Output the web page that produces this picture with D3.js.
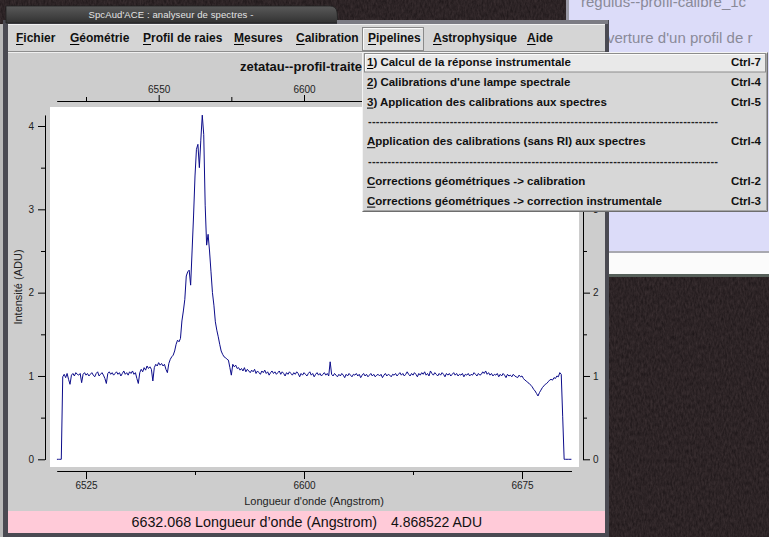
<!DOCTYPE html>
<html>
<head>
<meta charset="utf-8">
<script src="https://cdn.jsdelivr.net/npm/d3@7"></script>
<style>
  html, body { margin: 0; padding: 0; overflow: hidden; background: #2c2325; }
  svg text { font-family: "Liberation Sans", Arial, Helvetica, sans-serif; }
</style>
</head>
<body>
<svg id="view" width="769" height="537"></svg>
<script>
// ---- Spectrum: zetatau--profil-traite (H-alpha region), linear sampling ----
const lambdaStart = 6515.0;   // Angstrom, first sample
const lambdaStep = 0.5;       // Angstrom per sample

const intensity = [
  // 6515.0
  0, 0, 0, 0, 0.99, 1.02, 0.98, 1.03, 0.96, 0.90,
  // 6520.0
  1.01, 1.03, 1.00, 1.04, 1.02, 1.01, 1.03, 0.92, 1.02, 1.04,
  // 6525.0
  1.01, 1.03, 1.00, 1.02, 1.04, 1.01, 0.99, 1.03, 1.05, 1.00,
  // 6530.0
  1.02, 1.04, 1.01, 0.97, 0.91, 1.03, 1.05, 1.02, 1.04, 1.01,
  // 6535.0
  1.03, 1.05, 1.02, 1.04, 1.00, 1.03, 1.06, 1.02, 1.04, 1.01,
  // 6540.0
  1.05, 1.03, 1.06, 1.02, 1.04, 0.97, 0.91, 1.04, 1.08, 1.05,
  // 6545.0
  1.10, 1.07, 1.12, 1.09, 1.11, 1.08, 0.94, 1.10, 1.14, 1.12,
  // 6550.0
  1.16, 1.13, 1.15, 1.12, 1.14, 1.08, 1.04, 1.15, 1.20, 1.23,
  // 6555.0
  1.25, 1.30, 1.38, 1.43, 1.41, 1.45, 1.66, 1.78, 1.92, 2.20,
  // 6560.0
  2.25, 2.27, 2.09, 2.50, 2.92, 3.40, 3.72, 3.78, 3.50, 3.83,
  // 6565.0
  4.13, 3.90, 3.05, 2.57, 2.70, 2.50, 2.25, 2.00, 1.85, 1.65,
  // 6570.0
  1.55, 1.47, 1.38, 1.30, 1.26, 1.23, 1.22, 1.20, 1.19, 1.10,
  // 6575.0
  1.01, 1.14,
  // 6576.0
  1.11, 1.13, 1.09, 1.10, 1.07, 1.09, 1.06, 1.10, 1.05, 1.08,
  // 6581.0
  1.06, 1.04, 1.07, 1.05, 1.08, 1.03, 1.06, 1.04, 1.02, 1.06,
  // 6586.0
  1.04, 1.07, 1.03, 1.05, 1.01, 1.04, 1.06, 1.03, 1.05, 1.02,
  // 6591.0
  1.04, 1.06, 1.02, 1.05, 1.03, 1.00, 1.04, 1.02, 1.05, 1.03,
  // 6596.0
  1.01, 1.04, 1.02, 1.05, 1.03, 0.99, 1.03, 1.01, 1.04, 1.02,
  // 6601.0
  1.00, 1.03, 1.05, 1.01, 1.03, 0.99, 1.02, 1.04, 1.01, 1.03,
  // 6606.0
  1.00, 1.02, 1.04, 1.01, 1.03, 1.00, 1.17, 1.02, 1.00, 1.03,
  // 6611.0
  1.01, 0.99, 1.02, 1.00, 1.03, 1.01, 0.98, 1.02, 1.00, 1.03,
  // 6616.0
  1.01, 0.99, 1.02, 1.01, 1.03, 1.00, 1.02, 0.98, 1.01, 1.03,
  // 6621.0
  1.00, 1.02, 0.99, 1.01, 1.03, 1.00, 1.02, 0.99, 1.01, 1.02,
  // 6626.0
  1.00, 1.02, 0.98, 1.01, 1.03, 1.00, 1.02, 1.01, 0.99, 1.02,
  // 6631.0
  1.01, 1.03, 1.00, 1.02, 1.04, 1.01, 1.03, 1.00, 1.02, 1.05,
  // 6636.0
  1.02, 1.00, 1.03, 1.01, 1.04, 1.02, 0.99, 1.03, 1.01, 1.04,
  // 6641.0
  1.02, 1.05, 1.01, 1.03, 1.00, 1.06, 1.03, 1.01, 1.04, 1.02,
  // 6646.0
  1.00, 1.03, 1.01, 1.04, 1.02, 0.99, 1.03, 1.01, 1.03, 1.00,
  // 6651.0
  1.02, 1.04, 1.01, 1.03, 1.00, 1.02, 1.01, 1.03, 0.99, 1.02,
  // 6656.0
  1.01, 1.03, 1.00, 1.02, 1.01, 1.04, 1.02, 1.00, 1.03, 1.01,
  // 6661.0
  1.02, 1.05, 1.03, 1.06, 1.02, 1.04, 1.01, 1.03, 1.00, 1.02,
  // 6666.0
  1.01, 1.03, 0.99, 1.02, 1.00, 1.03, 1.01, 0.98, 1.02, 1.00,
  // 6671.0
  1.01, 0.99, 1.02, 1.00, 0.99,
  // 6673.5
  0.98, 1.01, 0.99, 1.00, 0.97, 0.95, 0.94, 0.92, 0.91, 0.89,
  // 6678.5
  0.87, 0.84, 0.82, 0.79, 0.76, 0.80, 0.83, 0.86, 0.88, 0.90,
  // 6683.5
  0.91, 0.93, 0.95, 0.96, 0.95, 0.98, 0.97, 1.00, 0.99, 1.04,
  // 6688.5
  1.02, 0.51, 0, 0, 0, 0, 0, 0
];

// Axis ticks
const xTicksBottomMajor = [6525, 6600, 6675];
const xTicksBottomMinor = [6562.5, 6637.5];
const xTicksTopMajor = [6550, 6600, 6650];
const xTicksTopMinor = [6525, 6575, 6625, 6675];
const yTicksMajor = [0, 1, 2, 3, 4];
const yTicksMinor = [0.5, 1.5, 2.5, 3.5];

// Texts
const windowTitle = "SpcAud'ACE : analyseur de spectres -";
const chartTitle = "zetatau--profil-traite";
const xAxisTitle = "Longueur d'onde (Angstrom)";
const yAxisTitle = "Intensité (ADU)";
const cursorLambda = "6632.068 Longueur d\u2019onde (Angstrom)";
const cursorValue = "4.868522 ADU";

const menuBarLabels = ["Fichier", "Géométrie", "Profil de raies", "Mesures", "Calibration", "Pipelines", "Astrophysique", "Aide"];
const menuBarX = [16, 70, 143, 234, 296, 368, 433, 527];

const pipelineLabels = [
  "1) Calcul de la réponse instrumentale",
  "2) Calibrations d'une lampe spectrale",
  "3) Application des calibrations aux spectres",
  null,
  "Application des calibrations (sans RI) aux spectres",
  null,
  "Corrections géométriques -> calibration",
  "Corrections géométriques -> correction instrumentale"
];
const pipelineKeys = ["Ctrl-7", "Ctrl-4", "Ctrl-5", null, "Ctrl-4", null, "Ctrl-2", "Ctrl-3"];

const backLabels = ["regulus--profil-calibre_1c", "verture d'un profil de r"];

// ---------------------------------------------------------------------------
const svg = d3.select("#view");
const defs = svg.append("defs");

// Desktop texture
const grain = defs.append("filter").attr("id", "grain")
  .attr("x", 0).attr("y", 0).attr("width", "100%").attr("height", "100%")
  .attr("color-interpolation-filters", "sRGB");
grain.append("feTurbulence").attr("type", "fractalNoise")
  .attr("baseFrequency", "0.55 0.22").attr("numOctaves", 3).attr("seed", 7);
grain.append("feColorMatrix").attr("type", "matrix")
  .attr("values", "0.14 0 0 0 0.105  0.12 0 0 0 0.08  0.12 0 0 0 0.088  0 0 0 0 1");

const titleGrad = defs.append("linearGradient").attr("id", "titleGrad")
  .attr("x1", 0).attr("y1", 0).attr("x2", 0).attr("y2", 1);
titleGrad.append("stop").attr("offset", 0).attr("stop-color", "#5a5a5a");
titleGrad.append("stop").attr("offset", 1).attr("stop-color", "#323232");

svg.append("rect").attr("width", 769).attr("height", 537).attr("fill", "#2c2325");
svg.append("rect").attr("width", 769).attr("height", 537).attr("filter", "url(#grain)");

// ---- Window behind (right) ----
const back = svg.append("g");
back.append("rect").attr("x", 567).attr("y", 0).attr("width", 202).attr("height", 252).attr("fill", "#dcdcf9");
back.append("rect").attr("x", 566).attr("y", 0).attr("width", 3).attr("height", 252).attr("fill", "#9a9aa6");
back.append("rect").attr("x", 567).attr("y", 251).attr("width", 202).attr("height", 2).attr("fill", "#a8a8b0");
back.append("rect").attr("x", 567).attr("y", 253).attr("width", 202).attr("height", 23).attr("fill", "#fbfbfb");
back.append("rect").attr("x", 567).attr("y", 274).attr("width", 202).attr("height", 3).attr("fill", "#56605a");
back.append("text").attr("x", 581).attr("y", 7).attr("font-size", 15).attr("fill", "#8a8a98").text(backLabels[0]);
back.append("text").attr("x", 607).attr("y", 43).attr("font-size", 15).attr("fill", "#8a8a98").text(backLabels[1]);

// ---- Main application window ----
const win = svg.append("g");
win.append("rect").attr("x", 0).attr("y", 24).attr("width", 4).attr("height", 513).attr("fill", "#b9b9b9");
win.append("rect").attr("x", 3).attr("y", 20).attr("width", 606).attr("height", 517).attr("fill", "#4a4a52");
win.append("rect").attr("x", 8).attr("y", 24).attr("width", 597).attr("height", 509).attr("fill", "#cdcdcd");
// title tab
win.append("path")
  .attr("d", "M6,23 L6,6 L330,6 Q336,6 337,12 L338,23 Z")
  .attr("fill", "url(#titleGrad)").attr("stroke", "#222").attr("stroke-width", 0.8);
win.append("text").attr("x", 171).attr("y", 18).attr("text-anchor", "middle")
  .attr("font-size", 9.5).attr("fill", "#e4e4e4").attr("letter-spacing", 0.1).text(windowTitle);
win.append("rect").attr("x", 337).attr("y", 20).attr("width", 271).attr("height", 4).attr("fill", "#7c7c84");

// menu bar
win.append("rect").attr("x", 8).attr("y", 24).attr("width", 597).attr("height", 28).attr("fill", "#d5d5d5");
win.append("rect").attr("x", 8).attr("y", 24).attr("width", 597).attr("height", 1).attr("fill", "#f2f2f2");
win.append("rect").attr("x", 8).attr("y", 51).attr("width", 597).attr("height", 1).attr("fill", "#8e8e8e");
win.append("rect").attr("x", 8).attr("y", 52).attr("width", 597).attr("height", 1).attr("fill", "#f0f0f0");

// active menubutton (Pipelines)
win.append("rect").attr("x", 362.5).attr("y", 27.5).attr("width", 61).attr("height", 23).attr("fill", "#dedede")
  .attr("stroke", "#8a8a8a");
win.append("path").attr("d", "M363.5,49.5 L363.5,28.5 L422.5,28.5").attr("fill", "none").attr("stroke", "#fafafa");

function underline(g, textSel, idx) {
  const node = textSel.node();
  const e = node.getExtentOfChar(idx);
  const yb = +textSel.attr("y") + 2.5;
  g.append("line").attr("x1", e.x).attr("x2", e.x + e.width)
    .attr("y1", yb).attr("y2", yb).attr("stroke", "#000").attr("stroke-width", 1);
}

menuBarLabels.forEach((lab, i) => {
  const t = win.append("text").attr("x", menuBarX[i]).attr("y", 42)
    .attr("font-size", 12).attr("font-weight", "bold").attr("fill", "#111").text(lab);
  underline(win, t, 0);
});

// status bar
win.append("rect").attr("x", 8).attr("y", 511).attr("width", 597).attr("height", 22).attr("fill", "#ffcad8");
win.append("text").attr("x", 131.5).attr("y", 527).attr("font-size", 14.3).attr("fill", "#111").text(cursorLambda);
win.append("text").attr("x", 391).attr("y", 527).attr("font-size", 14).attr("fill", "#111").text(cursorValue);

// ---- Chart ----
const plot = svg.append("g");
plot.append("rect").attr("x", 50).attr("y", 107).attr("width", 529).attr("height", 360).attr("fill", "#ffffff");

const data = intensity.map((v, i) => ({ l: lambdaStart + i * lambdaStep, v }));
const lambdaExtent = d3.extent(data, d => d.l);
const vMax = d3.max(data, d => d.v);

const x = d3.scaleLinear().domain([6525, 6675]).range([86, 522]);
const xAxisScale = x.copy().domain(lambdaExtent).range(lambdaExtent.map(x));
const y = d3.scaleLinear().domain([0, 4]).range([459.3, 126]);
const yAxisScale = y.copy().domain([0, vMax]).range([y(0), y(vMax)]);

function styleAxis(g, size) {
  g.selectAll("path.domain").attr("stroke", "#000");
  g.selectAll(".tick line").attr("stroke", "#000");
  g.selectAll(".tick text").attr("fill", "#222").attr("font-size", size)
    .attr("font-family", "Liberation Sans, Arial, sans-serif");
}

// bottom axis
plot.append("g").attr("transform", "translate(0,471)")
  .call(d3.axisBottom(xAxisScale).tickValues(xTicksBottomMinor).tickSize(4).tickSizeOuter(0).tickFormat(""))
  .call(g => styleAxis(g, 10));
plot.append("g").attr("transform", "translate(0,471)")
  .call(d3.axisBottom(xAxisScale).tickValues(xTicksBottomMajor).tickSize(8).tickSizeOuter(0).tickPadding(3)
    .tickFormat(d3.format("d")))
  .call(g => styleAxis(g, 10));

// top axis
plot.append("g").attr("transform", "translate(0,101)")
  .call(d3.axisTop(xAxisScale).tickValues(xTicksTopMinor).tickSize(4).tickSizeOuter(0).tickFormat(""))
  .call(g => styleAxis(g, 10));
plot.append("g").attr("transform", "translate(0,101)")
  .call(d3.axisTop(xAxisScale).tickValues(xTicksTopMajor).tickSize(6).tickSizeOuter(0).tickPadding(2)
    .tickFormat(d3.format("d")))
  .call(g => styleAxis(g, 10));

// left axis
plot.append("g").attr("transform", "translate(45,0)")
  .call(d3.axisLeft(yAxisScale).tickValues(yTicksMinor).tickSize(4).tickSizeOuter(0).tickFormat(""))
  .call(g => styleAxis(g, 10));
plot.append("g").attr("transform", "translate(45,0)")
  .call(d3.axisLeft(yAxisScale).tickValues(yTicksMajor).tickSize(7).tickSizeOuter(0).tickPadding(4)
    .tickFormat(d3.format("d")))
  .call(g => styleAxis(g, 10));

// right axis
plot.append("g").attr("transform", "translate(583,0)")
  .call(d3.axisRight(yAxisScale).tickValues(yTicksMinor).tickSize(4).tickSizeOuter(0).tickFormat(""))
  .call(g => styleAxis(g, 10));
plot.append("g").attr("transform", "translate(583,0)")
  .call(d3.axisRight(yAxisScale).tickValues(yTicksMajor).tickSize(7).tickSizeOuter(0).tickPadding(3)
    .tickFormat(d3.format("d")))
  .call(g => styleAxis(g, 10));

// spectrum
plot.append("path").datum(data)
  .attr("fill", "none").attr("stroke", "#0c0c8a").attr("stroke-width", 1)
  .attr("stroke-linejoin", "round")
  .attr("d", d3.line().x(d => x(d.l)).y(d => y(d.v)));

// titles
plot.append("text").attr("x", 240).attr("y", 71).attr("font-size", 13).attr("font-weight", "bold")
  .attr("fill", "#111").text(chartTitle);
plot.append("text").attr("x", 314).attr("y", 505).attr("text-anchor", "middle").attr("font-size", 11)
  .attr("fill", "#222").text(xAxisTitle);
plot.append("text").attr("transform", "translate(21.5,287) rotate(-90)").attr("text-anchor", "middle")
  .attr("font-size", 11).attr("fill", "#222").text(yAxisTitle);

// ---- Pipelines drop-down menu ----
const menu = svg.append("g");
const mx = 362, my = 52, mw = 406, mh = 160;
menu.append("rect").attr("x", mx).attr("y", my).attr("width", mw).attr("height", mh).attr("fill", "#d7d7d7");
menu.append("path").attr("d", `M${mx + 0.5},${my + mh - 0.5} L${mx + 0.5},${my + 0.5} L${mx + mw - 0.5},${my + 0.5}`)
  .attr("fill", "none").attr("stroke", "#f4f4f4");
menu.append("path").attr("d", `M${mx + 0.5},${my + mh - 0.5} L${mx + mw - 0.5},${my + mh - 0.5} L${mx + mw - 0.5},${my + 0.5}`)
  .attr("fill", "none").attr("stroke", "#6e6e6e");
menu.append("path").attr("d", `M${mx + 1.5},${my + mh - 1.5} L${mx + mw - 1.5},${my + mh - 1.5} L${mx + mw - 1.5},${my + 1.5}`)
  .attr("fill", "none").attr("stroke", "#a4a4a4");

const rowH = 19.8;
// active entry
menu.append("rect").attr("x", mx + 2.5).attr("y", my + 1.5).attr("width", mw - 5).attr("height", 18.5)
  .attr("fill", "#e9e9e9").attr("stroke", "#8c8c8c");
menu.append("path").attr("d", `M${mx + 3.5},${my + 19} L${mx + 3.5},${my + 2.5} L${mx + mw - 3.5},${my + 2.5}`)
  .attr("fill", "none").attr("stroke", "#fbfbfb");

pipelineLabels.forEach((lab, i) => {
  const cy = 62 + i * rowH;
  if (lab === null) {
    menu.append("text").attr("x", 368).attr("y", cy + 3.5).attr("font-size", 11).attr("font-weight", "bold")
      .attr("fill", "#222").attr("textLength", 350).attr("lengthAdjust", "spacing")
      .text("-".repeat(90));
    return;
  }
  const t = menu.append("text").attr("x", 367).attr("y", cy + 4).attr("font-size", 11.5)
    .attr("font-weight", "bold").attr("fill", "#111").text(lab);
  underline(menu, t, 0);
  menu.append("text").attr("x", 761).attr("y", cy + 4).attr("text-anchor", "end").attr("font-size", 11.5)
    .attr("font-weight", "bold").attr("fill", "#111").text(pipelineKeys[i]);
});
</script>
</body>
</html>
